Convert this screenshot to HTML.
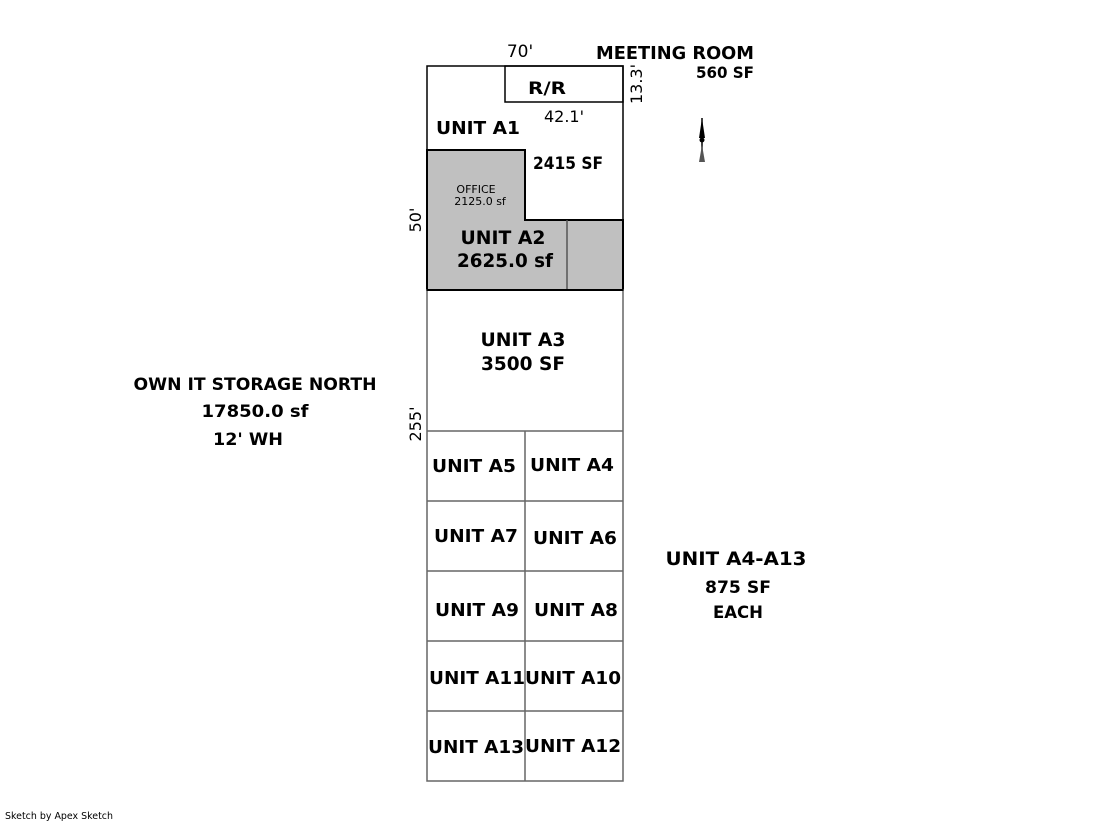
<!DOCTYPE html>
<html><head><style>html,body{margin:0;padding:0;background:#fff}svg{display:block}</style></head>
<body>
<svg width="1119" height="821" viewBox="0 0 1119 821" xmlns="http://www.w3.org/2000/svg" font-family="'DejaVu Sans', Verdana, sans-serif">
<rect width="1119" height="821" fill="#fff"/>
<path d="M427,150 H525 V220 H623 V290 H427 Z" fill="#c0c0c0" stroke="#000" stroke-width="2"/>
<line x1="567" y1="220" x2="567" y2="290" stroke="#555" stroke-width="1.5"/>
<rect x="427" y="66" width="196" height="224" fill="none" stroke="#000" stroke-width="1.5"/>
<rect x="505" y="66" width="118" height="36" fill="none" stroke="#000" stroke-width="1.5"/>
<g stroke="#666" stroke-width="1.5" fill="none">
<rect x="427" y="290" width="196" height="491"/>
<line x1="427" y1="431" x2="623" y2="431"/>
<line x1="427" y1="501" x2="623" y2="501"/>
<line x1="427" y1="571" x2="623" y2="571"/>
<line x1="427" y1="641" x2="623" y2="641"/>
<line x1="427" y1="711" x2="623" y2="711"/>
<line x1="525" y1="431" x2="525" y2="781"/>
</g>
<line x1="427" y1="290" x2="623" y2="290" stroke="#000" stroke-width="2"/>
<path d="M702,118 L705,138 L699,138 Z" fill="#000"/>
<line x1="702" y1="118" x2="702" y2="162" stroke="#000" stroke-width="1.5"/>
<circle cx="702" cy="140" r="2.5" fill="#000"/>
<path d="M702,145 L705,162 L699,162 Z" fill="#555"/>
<g font-size="17" fill="#000">
<text x="520" y="57" text-anchor="middle">70'</text>
<text x="564" y="122" text-anchor="middle" font-size="16">42.1'</text>
<text transform="translate(642,84) rotate(-90)" text-anchor="middle" font-size="16">13.3'</text>
<text transform="translate(421,220) rotate(-90)" text-anchor="middle" font-size="16">50'</text>
<text transform="translate(421,424) rotate(-90)" text-anchor="middle" font-size="16">255'</text>
</g>
<g font-weight="bold" fill="#000" text-anchor="middle">
<text x="675" y="59" font-size="18" textLength="158" lengthAdjust="spacingAndGlyphs">MEETING ROOM</text>
<text x="725" y="78" font-size="16" textLength="58" lengthAdjust="spacingAndGlyphs">560 SF</text>
<text x="547" y="94" font-size="17" textLength="38" lengthAdjust="spacingAndGlyphs">R/R</text>
<text x="478" y="134" font-size="18" textLength="84" lengthAdjust="spacingAndGlyphs">UNIT A1</text>
<text x="568" y="169" font-size="17" textLength="70" lengthAdjust="spacingAndGlyphs">2415 SF</text>
<text x="503" y="244" font-size="19" textLength="85" lengthAdjust="spacingAndGlyphs">UNIT A2</text>
<text x="505" y="267" font-size="19" textLength="96" lengthAdjust="spacingAndGlyphs">2625.0 sf</text>
<text x="523" y="346" font-size="19" textLength="85" lengthAdjust="spacingAndGlyphs">UNIT A3</text>
<text x="523" y="370" font-size="19" textLength="84" lengthAdjust="spacingAndGlyphs">3500 SF</text>
<text x="255" y="390" font-size="17" textLength="243" lengthAdjust="spacingAndGlyphs">OWN IT STORAGE NORTH</text>
<text x="255" y="417" font-size="17" textLength="107" lengthAdjust="spacingAndGlyphs">17850.0 sf</text>
<text x="248" y="445" font-size="17" textLength="70" lengthAdjust="spacingAndGlyphs">12' WH</text>
<text x="736" y="565" font-size="19" textLength="141" lengthAdjust="spacingAndGlyphs">UNIT A4-A13</text>
<text x="738" y="593" font-size="17" textLength="66" lengthAdjust="spacingAndGlyphs">875 SF</text>
<text x="738" y="618" font-size="17" textLength="50" lengthAdjust="spacingAndGlyphs">EACH</text>
<g font-size="18">
<text x="474" y="472" textLength="84" lengthAdjust="spacingAndGlyphs">UNIT A5</text>
<text x="572" y="471" textLength="84" lengthAdjust="spacingAndGlyphs">UNIT A4</text>
<text x="476" y="542" textLength="84" lengthAdjust="spacingAndGlyphs">UNIT A7</text>
<text x="575" y="544" textLength="84" lengthAdjust="spacingAndGlyphs">UNIT A6</text>
<text x="477" y="616" textLength="84" lengthAdjust="spacingAndGlyphs">UNIT A9</text>
<text x="576" y="616" textLength="84" lengthAdjust="spacingAndGlyphs">UNIT A8</text>
<text x="477" y="684" textLength="96" lengthAdjust="spacingAndGlyphs">UNIT A11</text>
<text x="573" y="684" textLength="96" lengthAdjust="spacingAndGlyphs">UNIT A10</text>
<text x="476" y="753" textLength="96" lengthAdjust="spacingAndGlyphs">UNIT A13</text>
<text x="573" y="752" textLength="96" lengthAdjust="spacingAndGlyphs">UNIT A12</text>
</g>
</g>
<text x="476" y="193" font-size="11" text-anchor="middle">OFFICE</text>
<text x="480" y="205" font-size="11" text-anchor="middle">2125.0 sf</text>
<text x="5" y="819" font-size="10" textLength="108" lengthAdjust="spacingAndGlyphs">Sketch by Apex Sketch</text>
</svg>
</body></html>
